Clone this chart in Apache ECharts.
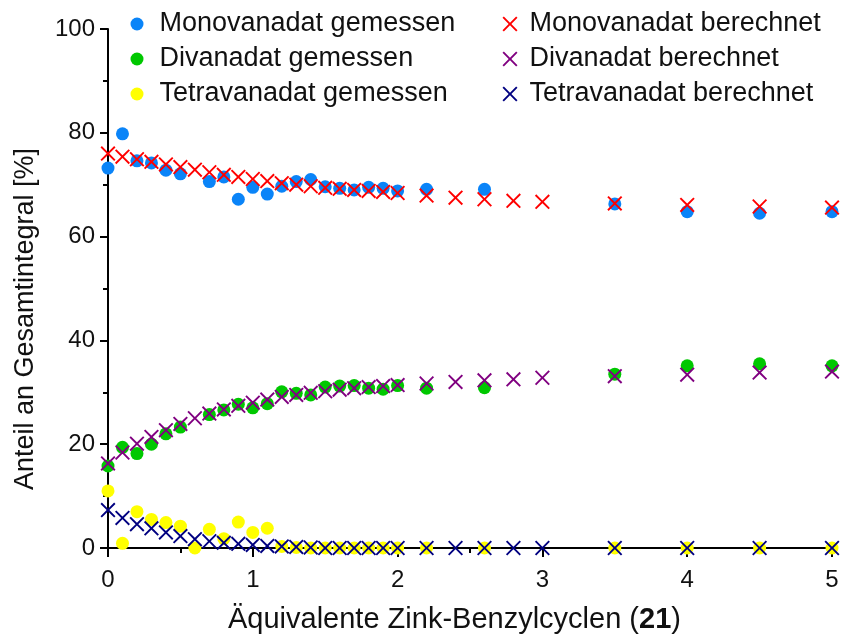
<!DOCTYPE html>
<html>
<head>
<meta charset="utf-8">
<script src="https://cdn.jsdelivr.net/npm/echarts@6/dist/echarts.min.js"></script>
<style>
  html, body { margin: 0; padding: 0; background: #fff; }
  #chart { width: 844px; height: 636px; }
</style>
</head>
<body>
<div id="chart"></div>
<script>
// Equivalents of zinc benzylcyclen added (x values)
const xMeasured = [0, 0.1, 0.2, 0.3, 0.4, 0.5, 0.7, 0.8, 0.9, 1.0, 1.1, 1.2, 1.3, 1.4, 1.5, 1.6, 1.7, 1.8, 1.9, 2.0, 2.2, 2.6, 3.5, 4, 4.5, 5];
const xTetraMeasured = [0, 0.1, 0.2, 0.3, 0.4, 0.5, 0.6, 0.7, 0.8, 0.9, 1.0, 1.1, 1.2, 1.3, 1.4, 1.5, 1.6, 1.7, 1.8, 1.9, 2.0, 2.2, 2.6, 3.5, 4, 4.5, 5];
const xCalculated = [0, 0.1, 0.2, 0.3, 0.4, 0.5, 0.6, 0.7, 0.8, 0.9, 1.0, 1.1, 1.2, 1.3, 1.4, 1.5, 1.6, 1.7, 1.8, 1.9, 2.0, 2.2, 2.4, 2.6, 2.8, 3.0, 3.5, 4, 4.5, 5];

// Measured fractions of the total integral [%]
const monoMeasured = [73.2, 79.8, 74.6, 74.2, 72.8, 72.1, 70.6, 71.5, 67.2, 69.5, 68.2, 69.7, 70.6, 71.0, 69.6, 69.3, 69.0, 69.5, 69.3, 68.8, 69.1, 69.1, 66.3, 64.8, 64.5, 64.8];
const diMeasured = [15.8, 19.4, 18.2, 20.0, 22.0, 23.3, 25.7, 26.6, 27.7, 27.0, 27.8, 30.1, 29.8, 29.5, 31.0, 31.2, 31.3, 30.8, 30.6, 31.3, 30.8, 30.9, 33.5, 35.1, 35.5, 35.1];
const tetraMeasured = [11.0, 0.9, 7.0, 5.5, 4.9, 4.2, 0.0, 3.6, 1.8, 5.0, 3.0, 3.8, 0.3, 0.1, 0, 0, 0, 0, 0, 0, 0, 0, 0, 0, 0, 0, 0];

// Calculated fractions of the total integral [%]
const monoCalculated = [76.0, 75.4, 74.9, 74.4, 73.9, 73.4, 72.9, 72.4, 71.9, 71.5, 71.1, 70.7, 70.3, 70.0, 69.7, 69.4, 69.2, 69.0, 68.8, 68.6, 68.4, 67.9, 67.5, 67.2, 66.9, 66.7, 66.4, 66.1, 65.8, 65.6];
const diCalculated = [16.3, 18.4, 20.1, 21.4, 22.7, 23.9, 25.0, 25.9, 26.7, 27.4, 28.0, 28.6, 29.1, 29.5, 29.9, 30.2, 30.5, 30.8, 31.0, 31.2, 31.4, 31.7, 32.0, 32.3, 32.5, 32.8, 33.1, 33.4, 33.8, 34.0];
const tetraCalculated = [7.3, 5.8, 4.6, 3.8, 3.0, 2.3, 1.7, 1.3, 1.0, 0.8, 0.6, 0.4, 0.3, 0.2, 0.1, 0, 0, 0, 0, 0, 0, 0, 0, 0, 0, 0, 0, 0, 0, 0];

const seriesNames = {
  monoM: 'Monovanadat gemessen',
  diM: 'Divanadat gemessen',
  tetraM: 'Tetravanadat gemessen',
  monoC: 'Monovanadat berechnet',
  diC: 'Divanadat berechnet',
  tetraC: 'Tetravanadat berechnet'
};

const xTicks = [0, 1, 2, 3, 4, 5];
const yTicks = [0, 20, 40, 60, 80, 100];

const xTitle = ['Äquivalente Zink-Benzylcyclen (', '21', ')'];
const yTitle = 'Anteil an Gesamtintegral [%]';

// Thin "x" marker as a filled outline
const CROSS = 'path://M9,0L50,41L91,0L100,9L59,50L100,91L91,100L50,59L9,100L0,91L41,50L0,9Z';
const FONT = 'Liberation Sans, Arial, sans-serif';
const INK = '#111';

function pairs(xs, ys) {
  return xs.map((x, i) => [x, ys[i]]);
}

function dots(name, xs, ys, color) {
  return {
    name, type: 'scatter', data: pairs(xs, ys),
    symbol: 'circle', symbolSize: 13, clip: false,
    itemStyle: { color, opacity: 1 },
    emphasis: { disabled: true }, z: 2
  };
}

function crosses(name, xs, ys, color) {
  return {
    name, type: 'scatter', data: pairs(xs, ys),
    symbol: CROSS, symbolSize: 15, symbolKeepAspect: true, clip: false,
    itemStyle: { color, opacity: 1 },
    emphasis: { disabled: true }, z: 3
  };
}

const chart = echarts.init(document.getElementById('chart'), null, { renderer: 'canvas' });

function legendText(padLeft) {
  return { fontFamily: FONT, fontSize: 27, lineHeight: 27, color: INK, padding: [0, 0, 0, padLeft] };
}

chart.setOption({
  animation: false,
  backgroundColor: '#fff',
  textStyle: { fontFamily: FONT },
  grid: { left: 108, right: 12, top: 29, bottom: 88 },
  legend: [
    {
      orient: 'vertical', left: 130.5, top: 10.5, itemGap: 8, padding: 0,
      itemWidth: 13, itemHeight: 13, textStyle: legendText(11),
      selectedMode: false,
      data: [
        { name: seriesNames.monoM, icon: 'circle' },
        { name: seriesNames.diM, icon: 'circle' },
        { name: seriesNames.tetraM, icon: 'circle' }
      ]
    },
    {
      orient: 'vertical', left: 502.5, top: 10.5, itemGap: 8, padding: 0,
      itemWidth: 15, itemHeight: 15, textStyle: legendText(7),
      selectedMode: false,
      data: [
        { name: seriesNames.monoC, icon: CROSS },
        { name: seriesNames.diC, icon: CROSS },
        { name: seriesNames.tetraC, icon: CROSS }
      ]
    }
  ],
  graphic: [
    {
      type: 'text', left: 228, top: 605,
      style: {
        text: '{n|' + xTitle[0] + '}{b|' + xTitle[1] + '}{n|' + xTitle[2] + '}',
        rich: {
          n: { fontFamily: FONT, fontSize: 29, fill: INK },
          b: { fontFamily: FONT, fontSize: 29, fontWeight: 'bold', fill: INK }
        }
      }
    },
    {
      type: 'text', x: 26, y: 319, rotation: Math.PI / 2,
      style: {
        text: yTitle, fontFamily: FONT, fontSize: 27, fill: INK,
        align: 'center', verticalAlign: 'middle'
      }
    }
  ],
  xAxis: {
    type: 'value', min: xTicks[0], max: xTicks[xTicks.length - 1], interval: 1,
    axisLine: { onZero: true, lineStyle: { color: '#000', width: 2 } },
    axisTick: { show: true, inside: false, length: 9, lineStyle: { color: '#000', width: 2 } },
    minorTick: { show: true, splitNumber: 2, length: 5, lineStyle: { color: '#000', width: 2 } },
    axisLabel: { fontFamily: FONT, fontSize: 24, color: INK, margin: 20 },
    splitLine: { show: false }
  },
  yAxis: {
    type: 'value', min: yTicks[0], max: yTicks[yTicks.length - 1], interval: 20,
    axisLine: { show: true, lineStyle: { color: '#000', width: 2 } },
    axisTick: { show: true, inside: false, length: 8, lineStyle: { color: '#000', width: 2 } },
    minorTick: { show: true, splitNumber: 2, length: 5, lineStyle: { color: '#000', width: 2 } },
    axisLabel: { fontFamily: FONT, fontSize: 24, color: INK, margin: 13 },
    splitLine: { show: false }
  },
  series: [
    dots(seriesNames.monoM, xMeasured, monoMeasured, '#0a84f8'),
    dots(seriesNames.diM, xMeasured, diMeasured, '#00c800'),
    dots(seriesNames.tetraM, xTetraMeasured, tetraMeasured, '#ffff00'),
    crosses(seriesNames.monoC, xCalculated, monoCalculated, '#ff0000'),
    crosses(seriesNames.diC, xCalculated, diCalculated, '#800080'),
    crosses(seriesNames.tetraC, xCalculated, tetraCalculated, '#000080')
  ]
});
</script>
</body>
</html>
